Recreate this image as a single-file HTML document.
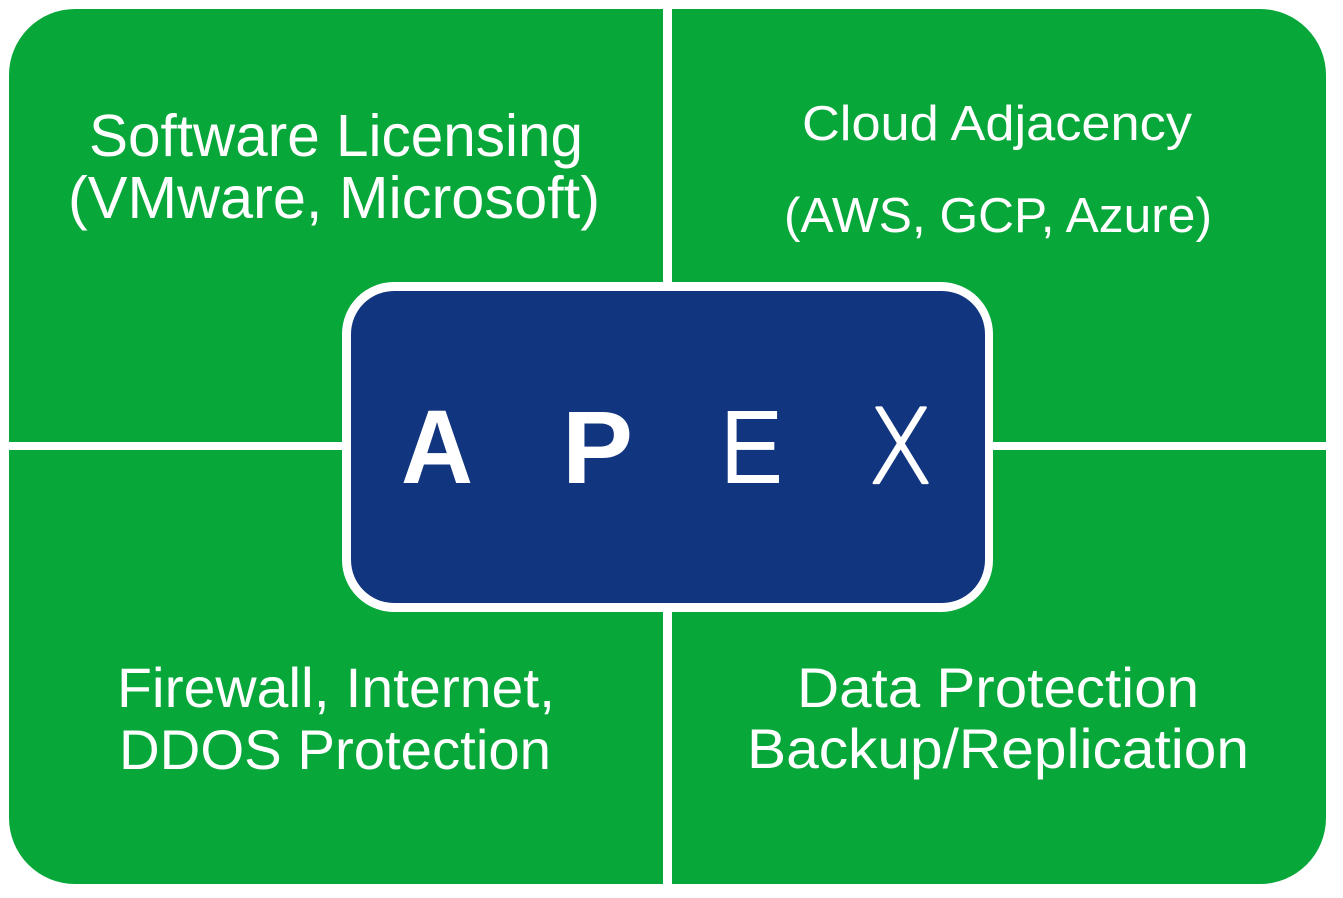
<!DOCTYPE html>
<html>
<head>
<meta charset="utf-8">
<style>
  html, body { margin: 0; padding: 0; background: #ffffff; }
  body { width: 1343px; height: 898px; overflow: hidden; }
  svg { display: block; }
  .t { font-family: "Liberation Sans", "DejaVu Sans", sans-serif; fill: #ffffff; }
</style>
</head>
<body>
<svg width="1343" height="898" viewBox="0 0 1343 898" xmlns="http://www.w3.org/2000/svg">
  <rect x="0" y="0" width="1343" height="898" fill="#ffffff"/>
  <!-- green background -->
  <rect x="9" y="9" width="1317" height="875" rx="66" ry="66" fill="#08a73a"/>
  <!-- dividers -->
  <rect x="663" y="0" width="9" height="898" fill="#ffffff"/>
  <rect x="0" y="442" width="1343" height="8" fill="#ffffff"/>
  <!-- center box -->
  <rect x="342" y="282" width="651" height="330" rx="52" ry="52" fill="#ffffff"/>
  <rect x="351" y="291" width="634" height="312" rx="43" ry="43" fill="#12357f"/>

  <!-- APEX letters -->
  <text class="t" x="401" y="483" font-size="105" font-weight="bold" textLength="72" lengthAdjust="spacingAndGlyphs">A</text>
  <text class="t" x="562" y="483" font-size="103" font-weight="bold" textLength="71" lengthAdjust="spacingAndGlyphs">P</text>
  <text class="t" x="720" y="483" font-size="105" textLength="63" lengthAdjust="spacingAndGlyphs">E</text>
  <text x="868" y="483" font-size="103" font-weight="200" fill="#ffffff" stroke="#ffffff" stroke-width="2.2" stroke-linejoin="round" style="font-family:'DejaVu Sans','Liberation Sans',sans-serif" textLength="65" lengthAdjust="spacingAndGlyphs">X</text>

  <!-- Top-left -->
  <text class="t" x="89" y="156" font-size="59" textLength="494" lengthAdjust="spacingAndGlyphs">Software Licensing</text>
  <text class="t" x="68" y="218" font-size="59" textLength="532" lengthAdjust="spacingAndGlyphs">(VMware, Microsoft)</text>

  <!-- Top-right -->
  <text class="t" x="802" y="140" font-size="49" textLength="390" lengthAdjust="spacingAndGlyphs">Cloud Adjacency</text>
  <text class="t" x="784" y="232" font-size="49" textLength="428" lengthAdjust="spacingAndGlyphs">(AWS, GCP, Azure)</text>

  <!-- Bottom-left -->
  <text class="t" x="117" y="707" font-size="56" textLength="438" lengthAdjust="spacingAndGlyphs">Firewall, Internet,</text>
  <text class="t" x="119" y="769" font-size="56" textLength="432" lengthAdjust="spacingAndGlyphs">DDOS Protection</text>

  <!-- Bottom-right -->
  <text class="t" x="797" y="707" font-size="56" textLength="402" lengthAdjust="spacingAndGlyphs">Data Protection</text>
  <text class="t" x="747" y="768" font-size="56" textLength="502" lengthAdjust="spacingAndGlyphs">Backup/Replication</text>
</svg>
</body>
</html>
